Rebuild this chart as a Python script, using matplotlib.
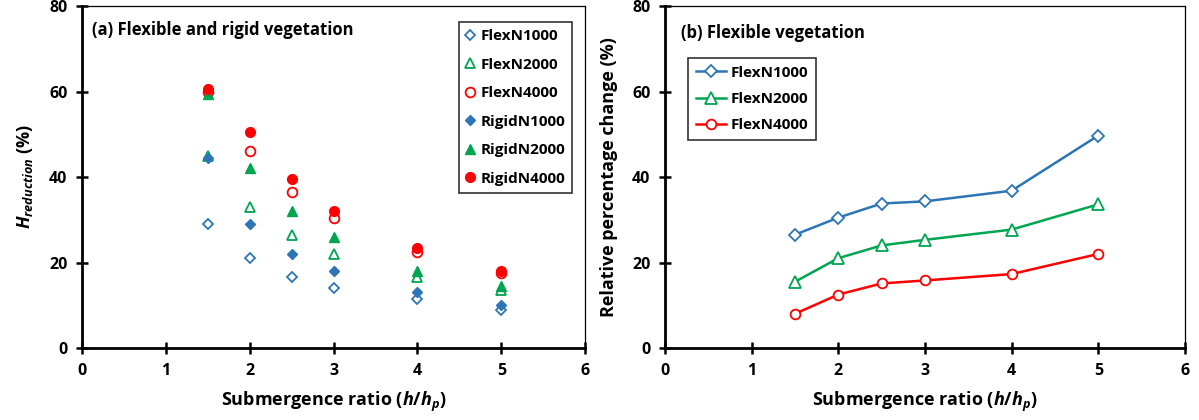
import matplotlib.pyplot as plt

plt.rcParams["font.family"] = ["Open Sans", "DejaVu Sans"]
plt.rcParams["font.weight"] = "bold"
plt.rcParams["mathtext.fontset"] = "custom"
plt.rcParams["mathtext.it"] = "Open Sans:italic:bold"
plt.rcParams["mathtext.rm"] = "Open Sans:bold"

ratio = [1.5, 2, 2.5, 3, 4, 5]

# (a) wave height reduction, %
flex_n1000 = [29.0, 21.0, 16.5, 14.0, 11.5, 9.0]
flex_n2000 = [44.8, 33.0, 26.5, 22.0, 16.5, 13.5]
flex_n4000 = [60.0, 46.0, 36.5, 30.5, 22.5, 17.5]
rigid_n1000 = [44.5, 29.0, 22.0, 18.0, 13.0, 10.0]
rigid_n2000 = [59.5, 42.0, 32.0, 26.0, 18.0, 14.5]
rigid_n4000 = [60.5, 50.5, 39.5, 32.0, 23.5, 18.0]

# (b) relative change between flexible and rigid, %
rel_n1000 = [26.5, 30.5, 33.8, 34.3, 36.8, 49.7]
rel_n2000 = [15.5, 21.0, 24.0, 25.3, 27.7, 33.6]
rel_n4000 = [8.0, 12.5, 15.1, 15.8, 17.3, 22.0]

BLUE = "#2E75B6"
GREEN = "#00A550"
RED = "#FF0000"

fig = plt.figure(figsize=(11.99, 4.2), dpi=100)
ax1 = fig.add_axes([0.0684, 0.1714, 0.4196, 0.8143])
ax2 = fig.add_axes([0.5546, 0.1714, 0.4337, 0.8143])


def style_axes(ax):
    ax.set_xlim(0, 6)
    ax.set_ylim(0, 80)
    ax.set_xticks(range(0, 7))
    ax.set_yticks(range(0, 81, 20))
    ax.tick_params(direction="inout", length=9, width=1.8, labelsize=11.5, pad=6)
    for side in ["left", "bottom"]:
        ax.spines[side].set_linewidth(2.0)
    for side in ["top", "right"]:
        ax.spines[side].set_linewidth(0.9)
    for lab in ax.get_xticklabels() + ax.get_yticklabels():
        lab.set_fontweight("bold")
    ax.set_xlabel("Submergence ratio ($h$/$h_p$)", fontsize=13, fontweight="bold", labelpad=8)


ms = 6
ax1.plot(ratio, flex_n1000, ls="none", marker="D", ms=ms - 1, mfc="white", mec=BLUE, mew=1.3, label="FlexN1000")
ax1.plot(ratio, flex_n2000, ls="none", marker="^", ms=ms + 1, mfc="white", mec=GREEN, mew=1.3, label="FlexN2000")
ax1.plot(ratio, flex_n4000, ls="none", marker="o", ms=ms + 1, mfc="white", mec=RED, mew=1.3, label="FlexN4000")
ax1.plot(ratio, rigid_n1000, ls="none", marker="D", ms=ms - 1, color=BLUE, label="RigidN1000")
ax1.plot(ratio, rigid_n2000, ls="none", marker="^", ms=ms + 1, color=GREEN, label="RigidN2000")
ax1.plot(ratio, rigid_n4000, ls="none", marker="o", ms=ms + 1, color=RED, label="RigidN4000")
style_axes(ax1)
ax1.set_ylabel("$H_{reduction}$ (%)", fontsize=13, fontweight="bold", labelpad=10)
ax1.text(0.02, 0.93, "(a) Flexible and rigid vegetation", transform=ax1.transAxes,
         fontsize=12, fontweight="bold", va="center")
leg1 = ax1.legend(loc="upper right", bbox_to_anchor=(0.99, 0.975), fontsize=11, frameon=True,
                  fancybox=False, edgecolor="black", handlelength=0.6, handletextpad=0.4,
                  labelspacing=0.95, borderpad=0.45)
leg1.get_frame().set_linewidth(1.2)

ax2.plot(ratio, rel_n1000, color=BLUE, lw=1.8, marker="D", ms=ms, mfc="white", mec=BLUE, mew=1.3, label="FlexN1000")
ax2.plot(ratio, rel_n2000, color=GREEN, lw=1.8, marker="^", ms=ms + 2, mfc="white", mec=GREEN, mew=1.3, label="FlexN2000")
ax2.plot(ratio, rel_n4000, color=RED, lw=1.8, marker="o", ms=ms + 1, mfc="white", mec=RED, mew=1.3, label="FlexN4000")
style_axes(ax2)
ax2.set_ylabel("Relative percentage change (%)", fontsize=13, fontweight="bold", labelpad=10)
ax2.text(0.03, 0.92, "(b) Flexible vegetation", transform=ax2.transAxes,
         fontsize=12, fontweight="bold", va="center")
leg2 = ax2.legend(loc="upper left", bbox_to_anchor=(0.03, 0.87), fontsize=11, frameon=True,
                  fancybox=False, edgecolor="black", handlelength=2.0, handletextpad=0.3,
                  labelspacing=0.8, borderpad=0.5)
leg2.get_frame().set_linewidth(1.2)

fig.savefig("out.png", dpi=100)
